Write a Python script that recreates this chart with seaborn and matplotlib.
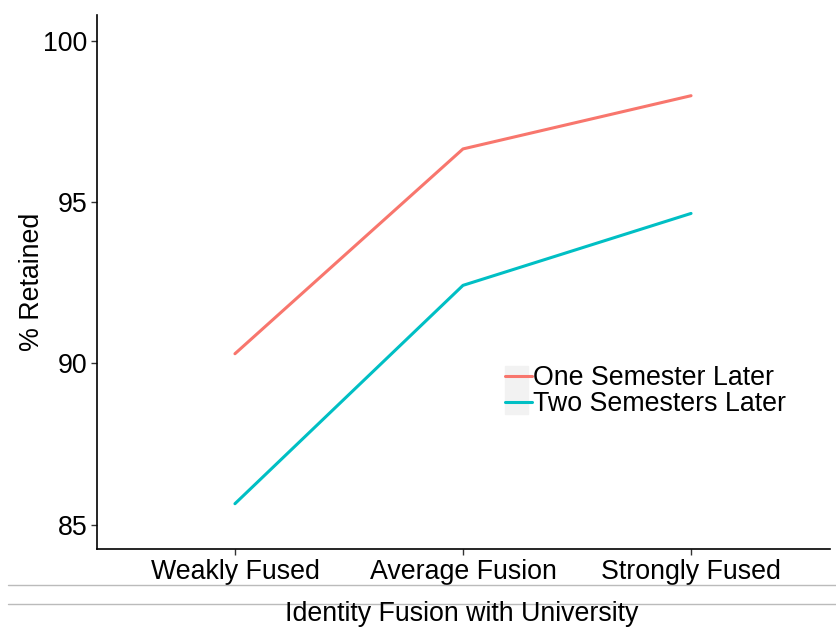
import pandas as pd
import matplotlib
matplotlib.use("Agg")
import matplotlib.pyplot as plt
import seaborn as sns
from matplotlib.lines import Line2D
from matplotlib.patches import Rectangle

# datos
niveles = ["Weakly Fused", "Average Fusion", "Strongly Fused"]
un_semestre = [90.3, 96.65, 98.3]
dos_semestres = [85.65, 92.42, 94.65]
series = ["One Semester Later", "Two Semesters Later"]
colores = ["#F8766D", "#00BFC4"]

df = pd.DataFrame({
    "fusion": niveles * 2,
    "pos": list(range(len(niveles))) * 2,
    "retenido": un_semestre + dos_semestres,
    "serie": [series[0]] * 3 + [series[1]] * 3,
})

sns.set_style("white")
plt.rcParams["font.family"] = ["Liberation Sans", "DejaVu Sans"]
plt.rcParams["text.color"] = "black"
plt.rcParams["axes.labelcolor"] = "black"

fig = plt.figure(figsize=(8.36, 6.28), dpi=100)
ax = fig.add_axes([0.116, 0.126, 0.877, 0.85])

sns.lineplot(data=df, x="pos", y="retenido", hue="serie", palette=colores,
             linewidth=2.2, ax=ax, legend=False)

ax.set_xlim(-0.605, 2.61)
ax.set_ylim(84.25, 100.8)
ax.set_xticks(range(len(niveles)))
ax.set_xticklabels(niveles)
ax.set_yticks([85, 90, 95, 100])
ax.tick_params(axis="both", labelsize=19.3, length=4, width=1, color="#333333",
               labelcolor="black", bottom=True, left=True, pad=3)
ax.set_xlabel("")
ax.set_ylabel("% Retained", fontsize=19.3, color="black")
ax.yaxis.set_label_coords(-0.071, 0.5)

for lado in ["top", "right"]:
    ax.spines[lado].set_visible(False)
for lado in ["left", "bottom"]:
    ax.spines[lado].set_color("black")
    ax.spines[lado].set_linewidth(1.2)

# leyenda estilo ggplot
fig.patches.append(Rectangle((505 / 836, 1 - 414 / 628), 23 / 836, 48 / 628,
                             transform=fig.transFigure, color="#F2F2F2", zorder=0))
handles = [Line2D([], [], color=c, linewidth=2.2) for c in colores]
leg = fig.legend(handles, series, loc="center left", bbox_to_anchor=(505 / 836, 1 - 391 / 628),
                 frameon=False, fontsize=19.3, handlelength=1.0, handletextpad=0.05,
                 labelspacing=0.0, borderpad=0, borderaxespad=0)
for t in leg.get_texts():
    t.set_color("black")

# lineas grises y titulo del eje x
fig.add_artist(Line2D([8 / 836, 1], [1 - 585 / 628] * 2, color="#BBBBBB", linewidth=1))
fig.add_artist(Line2D([8 / 836, 1], [1 - 604 / 628] * 2, color="#BBBBBB", linewidth=1))
fig.text(462 / 836, 1 - 621 / 628, "Identity Fusion with University",
         fontsize=19.3, ha="center", va="baseline", color="black")

plt.savefig("out.png", dpi=100)
print("listo")
